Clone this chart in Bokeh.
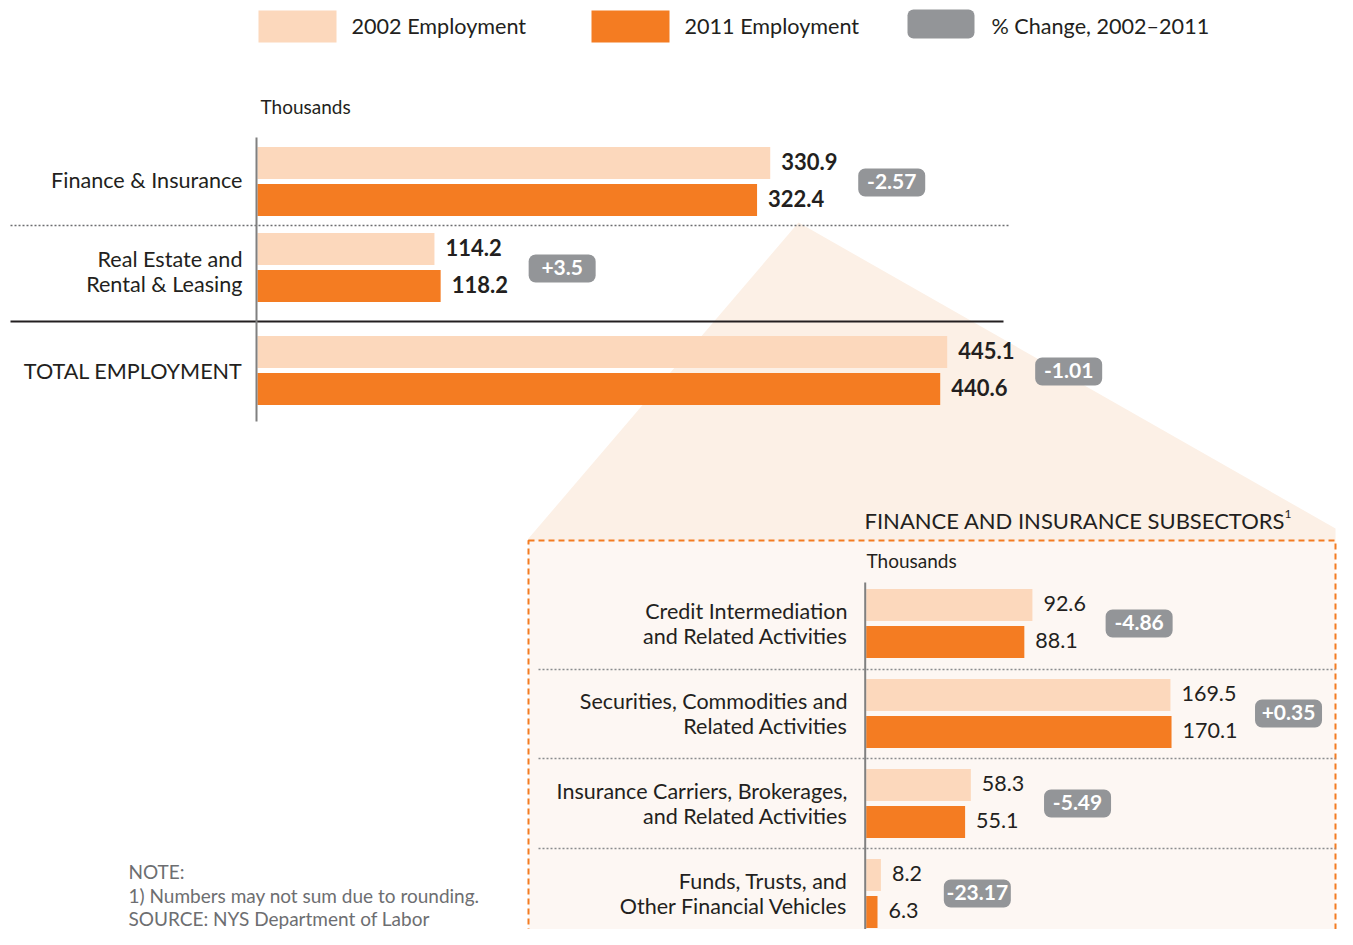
from bokeh.plotting import figure
from bokeh.models import Range1d
from bokeh.core.properties import value
from bokeh.embed import file_html
from bokeh.resources import INLINE

# ---------------- data ----------------
top_categories = ["Finance & Insurance", "Real Estate and\nRental & Leasing", "TOTAL EMPLOYMENT"]
top_2002 = [330.9, 114.2, 445.1]
top_2011 = [322.4, 118.2, 440.6]
top_change = ["-2.57", "+3.5", "-1.01"]

sub_categories = [
    "Credit Intermediation\nand Related Activities",
    "Securities, Commodities and\nRelated Activities",
    "Insurance Carriers, Brokerages,\nand Related Activities",
    "Funds, Trusts, and\nOther Financial Vehicles",
]
sub_2002 = [92.6, 169.5, 58.3, 8.2]
sub_2011 = [88.1, 170.1, 55.1, 6.3]
sub_change = ["-4.86", "+0.35", "-5.49", "-23.17"]

legend_labels = ["2002 Employment", "2011 Employment", "% Change, 2002\u20132011"]
unit_label = "Thousands"
sub_title = "FINANCE AND INSURANCE SUBSECTORS"
note_lines = ["NOTE:", "1) Numbers may not sum due to rounding.", "SOURCE: NYS Department of Labor"]

# ---------------- style / layout ----------------
C_2002 = "#FCD8BC"
C_2011 = "#F47C22"
C_BADGE = "#939598"
C_TEXT = "#231F20"
C_NOTE = "#6D6E71"
FONT = value("Lato")

W, H, OFF = 1337, 929, 0
p = figure(width=W, height=H, output_backend="svg", toolbar_location=None,
           x_range=Range1d(OFF, OFF + W), y_range=Range1d(OFF + H, OFF),
           min_border=0, x_axis_location=None, y_axis_location=None)
p.grid.visible = False
p.outline_line_color = None
p.background_fill_color = "white"

# value scales for the two bar charts (screen px of zero, px per thousand)
TOP_ZERO, TOP_PPU = 257.0, 1.5495
SUB_ZERO, SUB_PPU = 865.7, 1.795
p.extra_x_ranges = {
    "top": Range1d((OFF - TOP_ZERO) / TOP_PPU, (OFF + W - TOP_ZERO) / TOP_PPU),
    "sub": Range1d((OFF - SUB_ZERO) / SUB_PPU, (OFF + W - SUB_ZERO) / SUB_PPU),
}

# zoom wedge and sub-chart box
p.patch([798, 1335, 1335, 528, 528], [222, 528, 545, 545, 538],
        fill_color="#FCF0E6", line_color=None)
p.quad(left=[528], right=[1335], top=[540], bottom=[980],
       fill_color="#FDF7F3", line_color=C_2011, line_width=2, line_dash="6 4")

# legend
p.quad(left=[258, 591], right=[336, 669], top=[10, 10], bottom=[42, 42],
       fill_color=[C_2002, C_2011], line_color=None)
p.quad(left=[907], right=[974], top=[9], bottom=[38], fill_color=C_BADGE,
       line_color=None, border_radius=6)
p.text(x=[351, 684, 991], y=[25, 25, 25], text=legend_labels, text_font=FONT,
       text_font_size="21.6px", text_color=C_TEXT, text_baseline="middle")


def bar_chart(cats, v1, v2, changes, rows, label_dy, zero_px, rname, label_x,
              axis_y, val_style, val_size, val_cw, lab_size, gap, badge_dy):
    y1 = [r - 18.5 for r in rows]
    y2 = [r + 18.5 for r in rows]
    p.hbar(y=y1, left=0, right=v1, height=32, fill_color=C_2002, line_color=None,
           x_range_name=rname)
    p.hbar(y=y2, left=0, right=v2, height=32, fill_color=C_2011, line_color=None,
           x_range_name=rname)
    p.segment(x0=[zero_px - 1], x1=[zero_px - 1], y0=[axis_y[0]], y1=[axis_y[1]],
              line_color="#808080", line_width=2)
    lab1 = ["%.1f" % v for v in v1]
    lab2 = ["%.1f" % v for v in v2]
    p.text(x=v1 + v2, y=y1 + y2, text=lab1 + lab2, x_offset=11, y_offset=-2,
           text_font=FONT, text_font_size=val_size, text_font_style=val_style,
           text_color=C_TEXT, text_baseline="middle", x_range_name=rname)
    p.text(x=[label_x] * len(cats), y=[r + d for r, d in zip(rows, label_dy)],
           text=cats, text_font=FONT, text_font_size=lab_size, text_color=C_TEXT,
           text_align="right", text_baseline="middle", text_line_height=0.97)
    ppu = TOP_PPU if rname == "top" else SUB_PPU
    lefts, rights, centers = [], [], []
    for a, b in zip(v1, v2):
        m = max(a, b)
        lbl_w = len("%.1f" % m) * val_cw
        left = m + (11 + lbl_w + gap) / ppu
        lefts.append(left)
        rights.append(left + 67 / ppu)
        centers.append(left + 33.5 / ppu)
    by = [r + badge_dy for r in rows]
    p.quad(left=lefts, right=rights, top=[y - 14 for y in by],
           bottom=[y + 14 for y in by], fill_color=C_BADGE, line_color=None,
           border_radius=7, x_range_name=rname)
    p.text(x=centers, y=by, text=changes, text_font=FONT, text_font_size="21px",
           text_font_style="bold", text_color="white", text_align="center",
           text_baseline="middle", y_offset=-1, x_range_name=rname)


# top chart
top_rows = [181, 267, 370]
p.segment(x0=[10], x1=[1010], y0=[225], y1=[225], line_color="#6D6E71",
          line_width=1.3, line_dash="2 2")
p.segment(x0=[10], x1=[1003], y0=[321], y1=[321], line_color="#231F20", line_width=2)
bar_chart(top_categories, top_2002, top_2011, top_change, top_rows, [-2, 4, 0],
          TOP_ZERO, "top", 242, (137, 421), "bold", "22px", 11.2, "21.6px", 21, 1)
p.text(x=[260], y=[106], text=[unit_label], text_font=FONT, text_font_size="19px",
       text_color=C_TEXT, text_baseline="middle")

# sub chart
sub_rows = [623, 713, 803, 893]
p.segment(x0=[538] * 3, x1=[1335] * 3, y0=[669, 758, 848], y1=[669, 758, 848],
          line_color="#8A8C8E", line_width=1.3, line_dash="2 2")
bar_chart(sub_categories, sub_2002, sub_2011, sub_change, sub_rows, [0, 0, 0, 0],
          SUB_ZERO, "sub", 847, (582, 940), "normal", "21.5px", 10.3, "21.5px", 21, 0)
p.text(x=[866], y=[560], text=[unit_label], text_font=FONT, text_font_size="19px",
       text_color=C_TEXT, text_baseline="middle")
p.text(x=[864], y=[520], text=[sub_title], text_font=FONT, text_font_size="22px",
       text_color=C_TEXT, text_baseline="middle")
p.text(x=[1284], y=[513], text=["1"], text_font=FONT, text_font_size="12px",
       text_color=C_TEXT, text_baseline="middle")

# notes
p.text(x=[128, 128, 128], y=[871, 895, 918], text=note_lines, text_font=FONT,
       text_font_size="19px", text_color=C_NOTE, text_baseline="middle")

open("out.html", "w").write(file_html(p, INLINE))
